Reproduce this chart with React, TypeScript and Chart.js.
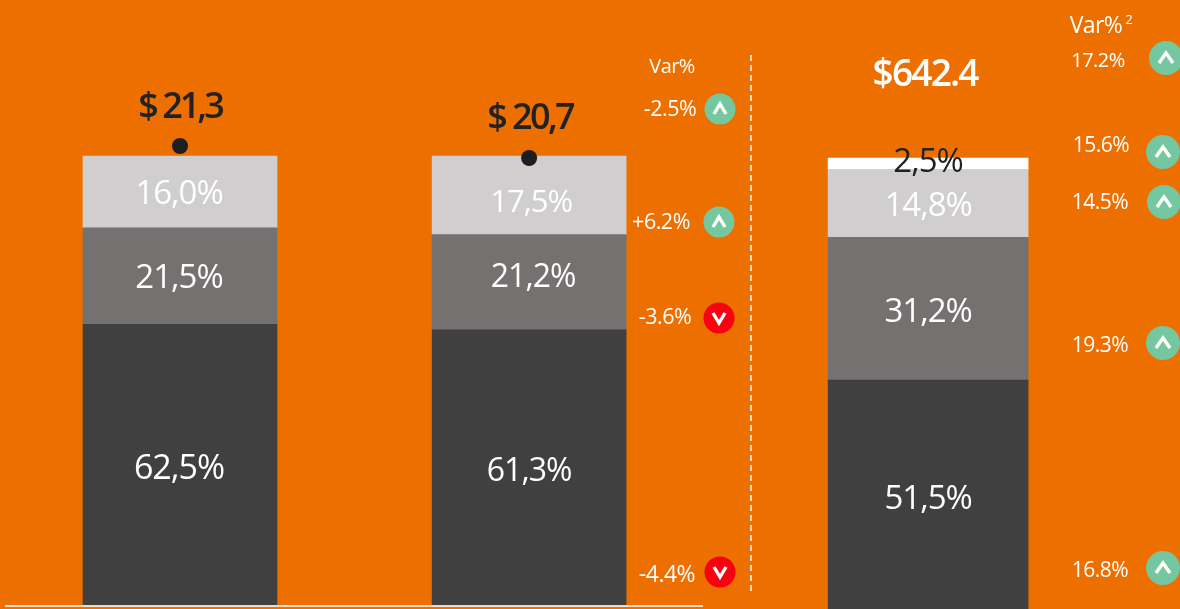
import React, { useEffect, useRef } from "react";
import { Chart, registerables } from "chart.js";

Chart.register(...registerables);

// ---------- data ----------
const categories = ["Periodo A", "Periodo B", "Total"];
const darkShare = [62.5, 61.3, 51.5];
const midShare = [21.5, 21.2, 31.2];
const lightShare = [16.0, 17.5, 14.8];
const whiteShare = [0, 0, 2.5];
const totalLabels = ["$ 21,3", "$ 20,7", "$642.4"];
const totalValues = [21.3, 20.7];
const varLeftLabels = ["-2.5%", "+6.2%", "-3.6%", "-4.4%"];
const varLeftUp = [true, true, false, false];
const varRightLabels = ["17.2%", "15.6%", "14.5%", "19.3%", "16.8%"];
const varRightUp = [true, true, true, true, true];

// ---------- layout ----------
const W = 1180;
const H = 609;
const SLOT_COUNT = 23;
const SLOTS = [3, 10, 18];
const BG = "#ED6F00";
const DARK = "#404040";
const MID = "#767171";
const LIGHT = "#D0CECE";
const GREEN = "#75C7A0";
const RED = "#FA0010";
const FONT = '"Open Sans"';

const varLeftPos = [
  { tx: 670, ty: 110, bx: 720, y: 109, size: 21.5 },
  { tx: 661, ty: 223, bx: 719, y: 222, size: 21.5 },
  { tx: 665, ty: 318, bx: 719, y: 318, size: 21.5 },
  { tx: 667, ty: 575, bx: 720, y: 572, size: 23 },
];
const varRightPos = [
  { tx: 1098, ty: 61, bx: 1166, by: 58 },
  { tx: 1101, ty: 146, bx: 1163, by: 152 },
  { tx: 1100, ty: 203, bx: 1164, by: 202 },
  { tx: 1100, ty: 346, bx: 1163, by: 343 },
  { tx: 1100, ty: 571, bx: 1163, by: 568 },
];
// nudge of each segment label from the centre of its bar segment: [dx, dy]
const nudges: Record<string, [number, number][]> = {
  dark: [[-1, 5], [0, 5], [0, 2]],
  mid: [[-1, 2], [4, -4], [0, 4]],
  light: [[-1, 3], [2, 8], [0, 3]],
  white: [[0, 0], [0, 0], [0, -1]],
};
const labelSizes: Record<string, number[]> = {
  dark: [34, 32, 33],
  mid: [33, 32, 33],
  light: [33, 31, 33],
  white: [33, 33, 33],
};

const atSlots = (vals: number[], which: number[]) => {
  const out: (number | null)[] = new Array(SLOT_COUNT).fill(null);
  which.forEach((i) => {
    if (i < vals.length) out[SLOTS[i]] = vals[i];
  });
  return out;
};
const slotLabels = () => {
  const out: string[] = new Array(SLOT_COUNT).fill("");
  SLOTS.forEach((s, i) => (out[s] = categories[i]));
  return out;
};

function setText(ctx: CanvasRenderingContext2D, size: number, weight: number, spacing: number, color: string) {
  ctx.font = `${weight} ${size}px ${FONT}`;
  (ctx as any).letterSpacing = `${spacing}px`;
  ctx.fillStyle = color;
  ctx.textAlign = "center";
  ctx.textBaseline = "middle";
}

function badge(ctx: CanvasRenderingContext2D, x: number, y: number, r: number, up: boolean) {
  ctx.save();
  ctx.beginPath();
  ctx.arc(x, y, r, 0, Math.PI * 2);
  ctx.fillStyle = up ? GREEN : RED;
  ctx.fill();
  ctx.strokeStyle = "#FFFFFF";
  ctx.lineWidth = 3.4;
  ctx.lineJoin = "miter";
  ctx.beginPath();
  const d = up ? 1 : -1;
  const hw = r > 16 ? 7 : 6;
  ctx.moveTo(x - hw, y + 5 * d);
  ctx.lineTo(x, y - 5 * d);
  ctx.lineTo(x + hw, y + 5 * d);
  ctx.stroke();
  ctx.restore();
}

const annotations = {
  id: "annotations",
  afterDatasetsDraw(chart: any) {
    const ctx: CanvasRenderingContext2D = chart.ctx;
    ctx.save();

    // segment labels, read from the bar elements
    chart.data.datasets.forEach((ds: any, di: number) => {
      if (!ds.segment) return;
      const meta = chart.getDatasetMeta(di);
      ds.barIndexes.forEach((barIdx: number) => {
        const el = meta.data[SLOTS[barIdx]];
        const v = ds.data[SLOTS[barIdx]];
        if (!el || !v) return;
        const [dx, dy] = nudges[ds.segment][barIdx];
        setText(ctx, labelSizes[ds.segment][barIdx], 400, -1, ds.segment === "white" ? "#222222" : "#FFFFFF");
        const label = v.toFixed(1).replace(".", ",") + "%";
        ctx.fillText(label, el.x + dx, (el.y + el.base) / 2 + dy);
      });
    });

    // totals
    const dots = chart.getDatasetMeta(chart.data.datasets.length - 1);
    setText(ctx, 36, 600, -3, "#222222");
    ctx.fillText(totalLabels[0], dots.data[SLOTS[0]].x, 108);
    setText(ctx, 36, 600, -2.6, "#222222");
    ctx.fillText(totalLabels[1], dots.data[SLOTS[1]].x + 1, 119);
    setText(ctx, 37, 600, -1.8, "#FFFFFF");
    ctx.fillText(totalLabels[2], chart.scales.x.getPixelForValue(SLOTS[2]) - 3, 75);

    // left variation column
    setText(ctx, 20, 400, -0.6, "#FFFFFF");
    ctx.fillText("Var%", 672, 67);
    varLeftLabels.forEach((t, i) => {
      const p = varLeftPos[i];
      setText(ctx, p.size, 400, -0.5, "#FFFFFF");
      ctx.fillText(t, p.tx, p.ty);
      badge(ctx, p.bx, p.y, 15.5, varLeftUp[i]);
    });

    // right variation column
    setText(ctx, 23, 400, -0.6, "#FFFFFF");
    ctx.fillText("Var%", 1096, 26);
    setText(ctx, 13, 400, 0, "#FFFFFF");
    ctx.fillText("2", 1129, 20);
    varRightLabels.forEach((t, i) => {
      const p = varRightPos[i];
      setText(ctx, i === 0 ? 20 : 21, 400, -0.5, "#FFFFFF");
      ctx.fillText(t, p.tx, p.ty);
      badge(ctx, p.bx, p.by, 17, varRightUp[i]);
    });

    // dashed divider
    ctx.strokeStyle = "#FFFFFF";
    ctx.lineWidth = 1.5;
    ctx.setLineDash([6, 4]);
    ctx.beginPath();
    ctx.moveTo(751, 55);
    ctx.lineTo(751, 594);
    ctx.stroke();
    ctx.setLineDash([]);

    // baseline
    ctx.strokeStyle = "#EADCC8";
    ctx.lineWidth = 2;
    ctx.beginPath();
    ctx.moveTo(5, 606);
    ctx.lineTo(703, 606);
    ctx.stroke();
    ctx.restore();
  },
};

export default function App() {
  const ref = useRef<HTMLCanvasElement | null>(null);

  useEffect(() => {
    document.documentElement.style.margin = "0";
    document.body.style.margin = "0";
    document.body.style.overflow = "hidden";
    document.body.style.background = BG;
    const canvas = ref.current;
    if (!canvas) return;

    const seg = (segment: string, vals: number[], which: number[], color: string, axis: string, thick: number) => ({
      type: "bar" as const,
      label: segment,
      segment,
      barIndexes: which,
      data: atSlots(vals, which),
      backgroundColor: color,
      yAxisID: axis,
      barThickness: thick,
      borderWidth: 0,
    });

    const chart = new Chart(canvas, {
      type: "bar",
      data: {
        labels: slotLabels(),
        datasets: [
          seg("dark", darkShare, [0, 1], DARK, "y", 194),
          seg("mid", midShare, [0, 1], MID, "y", 194),
          seg("light", lightShare, [0, 1], LIGHT, "y", 194),
          seg("dark", darkShare, [2], DARK, "y2", 200),
          seg("mid", midShare, [2], MID, "y2", 200),
          seg("light", lightShare, [2], LIGHT, "y2", 200),
          seg("white", whiteShare, [2], "#FFFFFF", "y2", 200),
          {
            type: "line" as const,
            label: "Total",
            data: atSlots(totalValues, [0, 1]),
            yAxisID: "y3",
            showLine: false,
            pointRadius: 8,
            pointBackgroundColor: "#1E1E1E",
            pointBorderWidth: 0,
            order: -1,
          },
        ] as any,
      },
      options: {
        responsive: false,
        animation: false,
        layout: { autoPadding: false, padding: { left: 5.44, right: 27.44, top: 0, bottom: 0 } },
        plugins: { legend: { display: false }, title: { display: false }, tooltip: { enabled: false } },
        scales: {
          x: { display: false, stacked: true, grid: { display: false } },
          y: { display: false, stacked: true, min: -0.89, max: 134.74 },
          y2: { display: false, stacked: true, min: 1.53, max: 134.5 },
          y3: { display: false, stacked: false, min: -1.85, max: 28.6 },
        },
      },
      plugins: [annotations],
    } as any);

    return () => chart.destroy();
  }, []);

  return <canvas ref={ref} width={W} height={H} style={{ display: "block", width: W, height: H, background: BG }} />;
}
